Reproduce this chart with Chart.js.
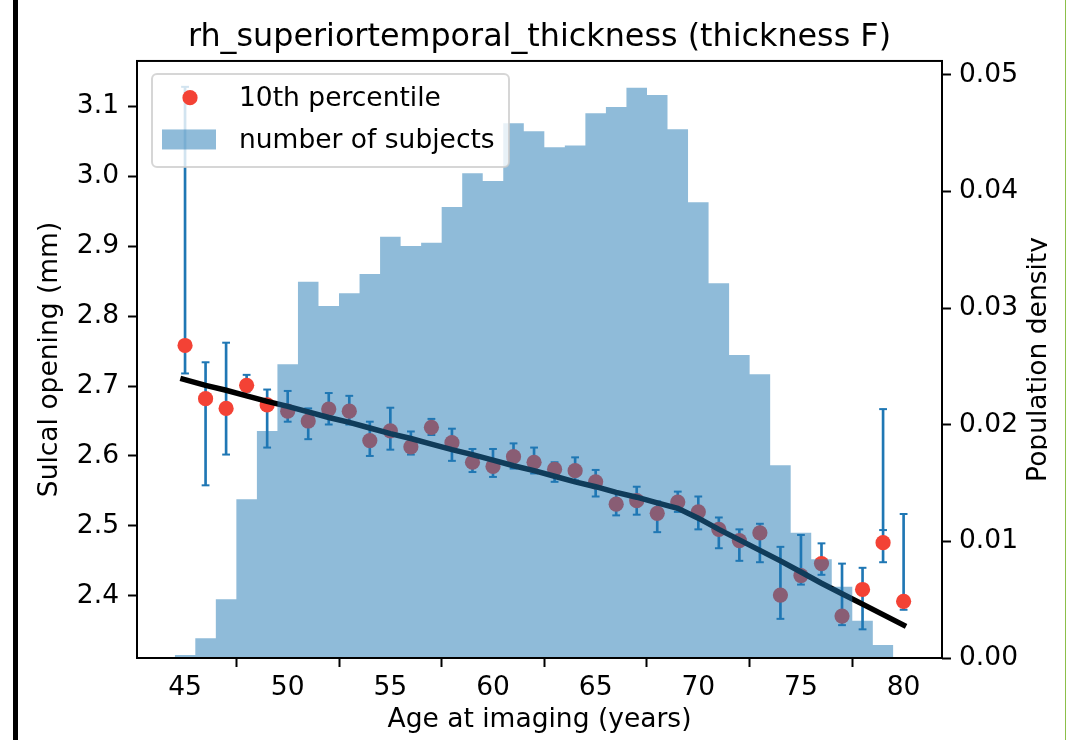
<!DOCTYPE html>
<html>
<head>
<meta charset="utf-8">
<title>rh_superiortemporal_thickness (thickness F)</title>
<script src="https://cdn.jsdelivr.net/npm/chart.js@4.4.1/dist/chart.umd.min.js"></script>
<style>
  html, body { margin: 0; padding: 0; background: #fff; }
  body { width: 1081px; height: 740px; position: relative; overflow: hidden; }
  #wrap { position: absolute; left: 0; top: 0; width: 1047px; height: 740px; }
  #edgeLeft { position: absolute; left: 13px; top: 0; width: 5px; height: 740px; background: #000; }
  #edgeRight { position: absolute; left: 1065px; top: 0; width: 1px; height: 740px; background: #8cbf4a; }
</style>
</head>
<body>
<div id="wrap"><canvas id="chart" width="1047" height="740"></canvas></div>
<div id="edgeLeft"></div>
<div id="edgeRight"></div>
<script>
// ---- data ----
const ages = [45, 46, 47, 48, 49, 50, 51, 52, 53, 54, 55, 56, 57, 58, 59, 60, 61, 62,
              63, 64, 65, 66, 67, 68, 69, 70, 71, 72, 73, 74, 75, 76, 77, 78, 79, 80];
// 10th percentile of thickness per age
const p10 = [2.758, 2.682, 2.668, 2.701, 2.673, 2.664, 2.650, 2.667, 2.664, 2.622, 2.636, 2.613,
             2.641, 2.619, 2.591, 2.585, 2.599, 2.591, 2.581, 2.579, 2.563, 2.531, 2.536, 2.518,
             2.534, 2.520, 2.495, 2.479, 2.490, 2.401, 2.429, 2.446, 2.371, 2.409, 2.476, 2.392];
// error bar ends
const ciLow = [2.718, 2.558, 2.602, 2.692, 2.612, 2.649, 2.624, 2.645, 2.645, 2.600, 2.609, 2.602,
               2.630, 2.593, 2.577, 2.570, 2.582, 2.575, 2.563, 2.565, 2.542, 2.515, 2.516, 2.491,
               2.520, 2.495, 2.468, 2.450, 2.448, 2.367, 2.416, 2.430, 2.358, 2.352, 2.448, 2.380];
const ciHigh = [3.128, 2.734, 2.762, 2.716, 2.695, 2.693, 2.668, 2.690, 2.686, 2.649, 2.669, 2.635,
                2.653, 2.639, 2.610, 2.610, 2.618, 2.612, 2.591, 2.598, 2.580, 2.548, 2.556, 2.535,
                2.549, 2.542, 2.512, 2.495, 2.503, 2.470, 2.487, 2.475, 2.446, 2.440, 2.667, 2.517];
// one extra cap seen at age 79
const extraCapAges = [79];
const extraCapVals = [2.494];

// black fitted curve
const fitAges = [44.9, 46, 47, 48, 49, 50, 51, 52, 53, 54, 55, 56, 57, 58, 59, 60, 61, 62,
                 63, 64, 65, 66, 67, 68, 69, 70, 71, 72, 73, 74, 75, 76, 77, 78, 79, 80];
const fitVals = [2.710, 2.701, 2.694, 2.686, 2.678, 2.671, 2.663, 2.655, 2.648, 2.640, 2.632, 2.625,
                 2.617, 2.609, 2.602, 2.594, 2.586, 2.579, 2.571, 2.563, 2.556, 2.548, 2.541, 2.533,
                 2.525, 2.511, 2.495, 2.480, 2.465, 2.450, 2.434, 2.418, 2.403, 2.388, 2.373, 2.358];

// histogram (1-year bins, centres)
const binCenters = [45, 46, 47, 48, 49, 50, 51, 52, 53, 54, 55, 56, 57, 58, 59, 60, 61, 62,
                    63, 64, 65, 66, 67, 68, 69, 70, 71, 72, 73, 74, 75, 76, 77, 78, 79];
const density = [0.00026, 0.00169, 0.00503, 0.01361, 0.01947, 0.02519, 0.03227, 0.03019, 0.03128,
                 0.03293, 0.03613, 0.03533, 0.03562, 0.03868, 0.04157, 0.04091, 0.04586, 0.04517,
                 0.04380, 0.04394, 0.04672, 0.04726, 0.04891, 0.04828, 0.04534, 0.03908, 0.03214,
                 0.02599, 0.02433, 0.01653, 0.01075, 0.00846, 0.00612, 0.00320, 0.00111];

const xTicks = [45, 50, 55, 60, 65, 70, 75, 80];
const yTicks = [2.4, 2.5, 2.6, 2.7, 2.8, 2.9, 3.0, 3.1];
const y2Ticks = [0, 0.01, 0.02, 0.03, 0.04, 0.05];

// ---- style ----
const FONT = "'DejaVu Sans', sans-serif";
const FS = 26.5;
const BLUE = '#1f77b4';
const RED = 'rgb(243,66,53)';
const HIST = 'rgba(31,119,180,0.5)';

const caps = [];
ages.forEach((a, i) => { caps.push({x: a, y: ciLow[i]}); caps.push({x: a, y: ciHigh[i]}); });
extraCapAges.forEach((a, i) => caps.push({x: a, y: extraCapVals[i]}));

// histogram as one stepped filled outline (left edge of each bin, then closing edge)
const histSteps = binCenters.map((c, i) => ({x: c - 0.5, y: density[i]}));
histSteps.push({x: binCenters[binCenters.length - 1] + 0.5, y: density[density.length - 1]});

// frame, right-hand label and legend drawn inside the plot
const extras = {
  id: 'extras',
  afterDatasetsDraw(chart) {
    const c = chart.ctx, a = chart.chartArea;
    c.save();
    c.strokeStyle = '#000';
    c.lineWidth = 2;
    c.strokeRect(a.left, a.top, a.right - a.left, a.bottom - a.top);
    c.restore();
  },
  afterDraw(chart) {
    const c = chart.ctx, a = chart.chartArea;
    c.save();
    // right axis label, reading bottom to top
    c.translate(1046, (a.top + a.bottom) / 2);
    c.rotate(-Math.PI / 2);
    c.font = FS + 'px ' + FONT;
    c.fillStyle = '#000';
    c.textAlign = 'center';
    c.textBaseline = 'alphabetic';
    c.fillText('Population density', 0, 0);
    c.restore();

    // legend box
    const lx = a.left + 15, ly = a.top + 13, lw = 357, lh = 93, r = 5;
    c.save();
    c.beginPath();
    c.moveTo(lx + r, ly);
    c.lineTo(lx + lw - r, ly);
    c.arcTo(lx + lw, ly, lx + lw, ly + r, r);
    c.lineTo(lx + lw, ly + lh - r);
    c.arcTo(lx + lw, ly + lh, lx + lw - r, ly + lh, r);
    c.lineTo(lx + r, ly + lh);
    c.arcTo(lx, ly + lh, lx, ly + lh - r, r);
    c.lineTo(lx, ly + r);
    c.arcTo(lx, ly, lx + r, ly, r);
    c.closePath();
    c.fillStyle = 'rgba(255,255,255,0.8)';
    c.fill();
    c.strokeStyle = 'rgba(204,204,204,0.8)';
    c.lineWidth = 2;
    c.stroke();

    c.beginPath();
    c.arc(lx + 38, ly + 23.7, 7.6, 0, Math.PI * 2);
    c.fillStyle = RED;
    c.fill();
    c.fillStyle = HIST;
    c.fillRect(lx + 10, ly + 55.5, 54, 20);

    c.font = FS + 'px ' + FONT;
    c.fillStyle = '#000';
    c.textAlign = 'left';
    c.textBaseline = 'alphabetic';
    c.fillText('10th percentile', lx + 87, ly + 32.5);
    c.fillText('number of subjects', lx + 87, ly + 74);
    c.restore();
  }
};

const tickFont = {family: FONT, size: FS};

new Chart(document.getElementById('chart'), {
  type: 'scatter',
  data: {
    datasets: [
      {
        type: 'line', label: 'number of subjects', yAxisID: 'y2',
        data: histSteps, stepped: 'before',
        fill: 'origin', backgroundColor: HIST, borderWidth: 0, borderColor: 'rgba(0,0,0,0)',
        pointRadius: 0, order: 0
      },
      {
        type: 'line', yAxisID: 'y',
        data: fitAges.map((x, i) => ({x: x, y: fitVals[i]})),
        borderColor: '#000', borderWidth: 5.5, borderCapStyle: 'square',
        pointRadius: 0, tension: 0, fill: false, order: 1
      },
      {
        type: 'scatter', label: '10th percentile', yAxisID: 'y',
        data: ages.map((x, i) => ({x: x, y: p10[i]})),
        backgroundColor: RED, borderWidth: 0, pointRadius: 7.6, order: 2
      },
      {
        type: 'scatter', yAxisID: 'y', data: caps,
        pointStyle: 'line', pointRadius: 3.9, borderColor: BLUE, borderWidth: 2, order: 3
      },
      {
        type: 'bar', yAxisID: 'y',
        data: ages.map((x, i) => ({x: x, y: [ciLow[i], ciHigh[i]]})),
        backgroundColor: BLUE, borderWidth: 0, barThickness: 2, grouped: false, order: 4
      }
    ]
  },
  options: {
    responsive: false,
    devicePixelRatio: 1,
    animation: false,
    layout: {padding: 0},
    plugins: {
      legend: {display: false},
      tooltip: {enabled: false},
      title: {
        display: true, text: 'rh_superiortemporal_thickness (thickness F)',
        font: {family: FONT, size: 31.8, weight: 'normal'}, color: '#000',
        padding: {top: 18.5, bottom: 4.3}, fullSize: false
      }
    },
    scales: {
      x: {
        type: 'linear', min: 42.66, max: 81.87, offset: false,
        afterBuildTicks: s => { s.ticks = xTicks.map(v => ({value: v})); },
        afterFit: s => { s.height = 82; },
        grid: {drawOnChartArea: false, drawTicks: true, tickLength: 9, tickWidth: 2, tickColor: '#000'},
        border: {display: false},
        ticks: {font: tickFont, color: '#000', padding: 5, maxRotation: 0, autoSkip: false,
                callback: v => String(v)},
        title: {display: true, text: 'Age at imaging (years)', font: tickFont, color: '#000',
                padding: {top: 0, bottom: 4}}
      },
      y: {
        type: 'linear', position: 'left', min: 2.311, max: 3.165,
        afterBuildTicks: s => { s.ticks = yTicks.map(v => ({value: v})); },
        afterFit: s => { s.width = 137; },
        grid: {drawOnChartArea: false, drawTicks: true, tickLength: 9, tickWidth: 2, tickColor: '#000'},
        border: {display: false},
        ticks: {font: tickFont, color: '#000', padding: 9, callback: v => v.toFixed(1)},
        title: {display: true, text: 'Sulcal opening (mm)', font: tickFont, color: '#000',
                padding: {top: 34, bottom: 0}}
      },
      y2: {
        type: 'linear', position: 'right', min: 0, max: 0.0512,
        afterBuildTicks: s => { s.ticks = y2Ticks.map(v => ({value: v})); },
        afterFit: s => { s.width = 105; },
        grid: {drawOnChartArea: false, drawTicks: true, tickLength: 9, tickWidth: 2, tickColor: '#000'},
        border: {display: false},
        ticks: {font: tickFont, color: '#000', padding: 8, callback: v => v.toFixed(2)}
      }
    }
  },
  plugins: [extras]
});
</script>
</body>
</html>
